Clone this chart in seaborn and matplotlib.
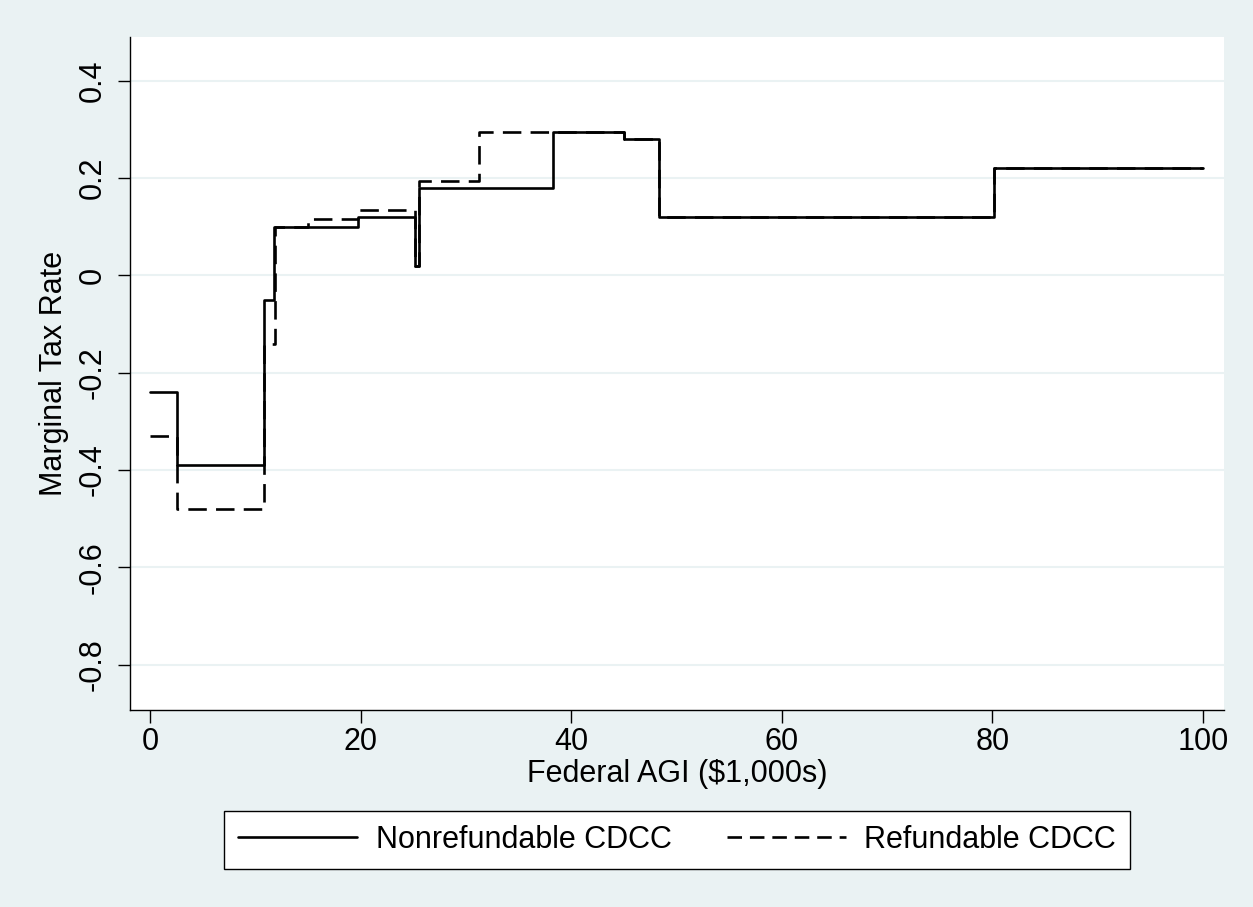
import pandas as pd
import seaborn as sns
import matplotlib.pyplot as plt

# step breakpoints (AGI in $1,000s, marginal rate)
nonref_x = [0, 2.6, 10.8, 11.8, 19.8, 25.2, 25.5, 38.3, 45.0, 48.3, 80.2, 100]
nonref_y = [-0.24, -0.39, -0.05, 0.10, 0.12, 0.02, 0.18, 0.295, 0.28, 0.12, 0.22, 0.22]

ref_x = [0, 2.6, 10.8, 11.9, 15.0, 19.8, 25.2, 25.5, 31.2, 38.3, 45.0, 48.3, 80.2, 100]
ref_y = [-0.33, -0.48, -0.14, 0.10, 0.115, 0.135, 0.02, 0.195, 0.295, 0.295, 0.28, 0.12, 0.22, 0.22]

series_names = ["Nonrefundable CDCC", "Refundable CDCC"]
y_ticks = [-0.8, -0.6, -0.4, -0.2, 0, 0.2, 0.4]
y_tick_labels = ["-0.8", "-0.6", "-0.4", "-0.2", "0", "0.2", "0.4"]
x_ticks = [0, 20, 40, 60, 80, 100]

df = pd.concat([
    pd.DataFrame({"agi": nonref_x, "rate": nonref_y, "series": series_names[0]}),
    pd.DataFrame({"agi": ref_x, "rate": ref_y, "series": series_names[1]}),
])

sns.set_style("white")
plt.rcParams['font.family'] = ['Liberation Sans', 'DejaVu Sans']
plt.rcParams['text.color'] = 'black'
plt.rcParams['axes.labelcolor'] = 'black'
plt.rcParams['xtick.color'] = 'black'
plt.rcParams['ytick.color'] = 'black'

bg = "#EAF2F3"
fs = 22
fig = plt.figure(figsize=(12.53, 9.07), dpi=100, facecolor=bg)
ax = fig.add_axes([130 / 1253, 1 - 710 / 907, (1224 - 130) / 1253, (710 - 37) / 907])
ax.set_facecolor("white")

sns.lineplot(data=df, x="agi", y="rate", hue="series", style="series",
             palette=["black", "black"], dashes={series_names[0]: "", series_names[1]: (7, 3.5)},
             estimator=None, sort=False, drawstyle="steps-post", linewidth=1.9,
             legend=False, ax=ax)

ax.set_xlim(-1.9, 102.0)
ax.set_ylim(-0.893, 0.49)
ax.set_yticks(y_ticks)
ax.set_yticklabels(y_tick_labels, rotation=90, va="center")
ax.set_xticks(x_ticks)
ax.tick_params(axis="both", which="major", labelsize=fs, length=9, width=1.0,
               direction="out", left=True, bottom=True)
ax.tick_params(axis="x", pad=3)
ax.tick_params(axis="y", pad=7)
ax.grid(axis="y", color=bg, linewidth=1.5)
ax.grid(axis="x", visible=False)
for side in ["top", "right"]:
    ax.spines[side].set_visible(False)
for side in ["left", "bottom"]:
    ax.spines[side].set_color("black")
    ax.spines[side].set_linewidth(1.0)

ax.set_xlabel("Federal AGI ($1,000s)", fontsize=fs, labelpad=2)
ax.set_ylabel("Marginal Tax Rate", fontsize=fs, labelpad=6)

h1 = plt.Line2D([], [], color="black", linewidth=1.9)
h2 = plt.Line2D([], [], color="black", linewidth=1.9, linestyle=(0, (5.5, 3)))
leg = fig.legend([h1, h2], series_names, loc="center",
                 bbox_to_anchor=(677 / 1253, 1 - 840 / 907), ncol=2,
                 fontsize=fs, frameon=True, fancybox=False, edgecolor="black",
                 framealpha=1, handlelength=3.9, columnspacing=1.8,
                 handletextpad=0.6, borderpad=0.45, borderaxespad=0)
leg.get_frame().set_linewidth(1.0)
leg.get_frame().set_facecolor("white")

plt.savefig("out.png", dpi=100, facecolor=bg)
